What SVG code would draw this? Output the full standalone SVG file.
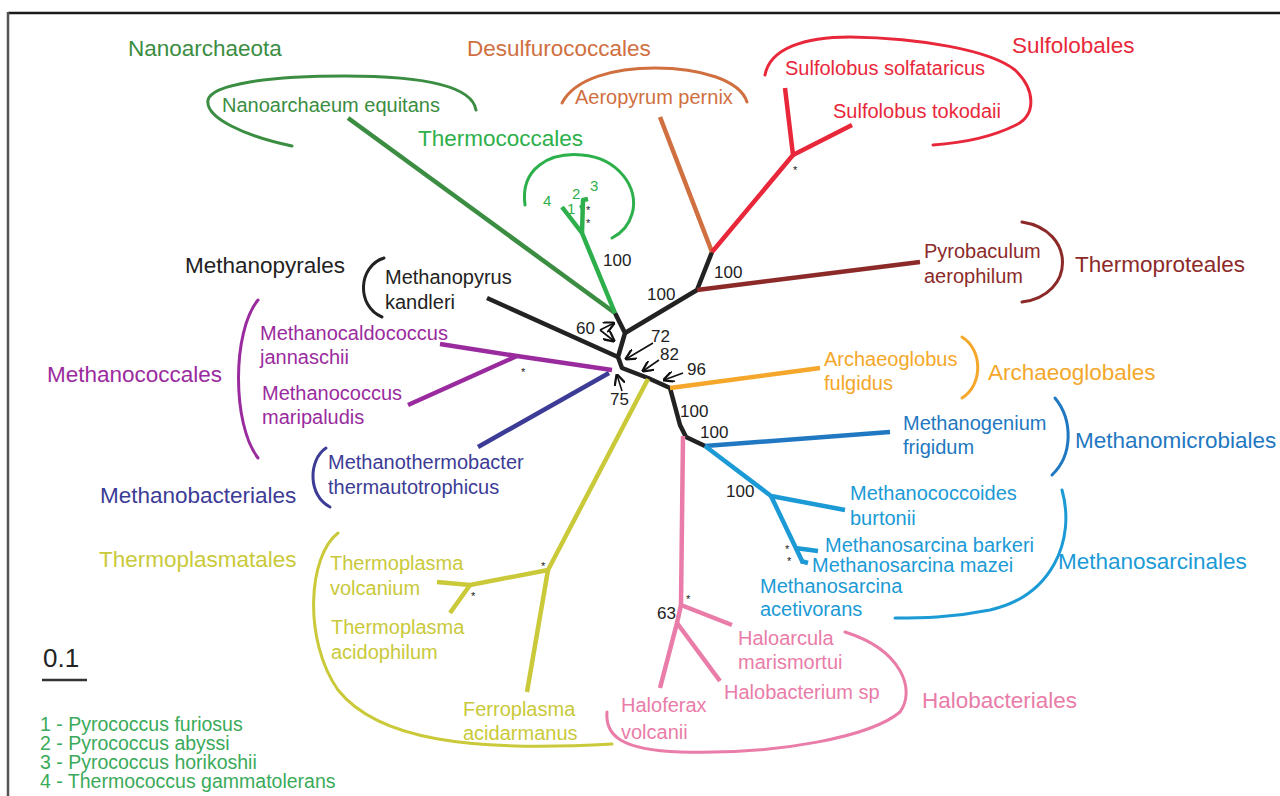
<svg xmlns="http://www.w3.org/2000/svg" width="1280" height="796" viewBox="0 0 1280 796">
<defs>
<marker id="ah" viewBox="0 0 10 10" refX="9" refY="5" markerWidth="7" markerHeight="7" orient="auto-start-reverse">
<path d="M0,0 L10,5 L0,10" fill="none" stroke="#111" stroke-width="2"/>
</marker>
<style>
text{font-family:"Liberation Sans",Arial,sans-serif}
.g{font-size:22.5px}
.s{font-size:20px}
.n{font-size:17px;fill:#222}
.st{font-size:11px;fill:#222}
.br{fill:none;stroke-width:3;stroke-linecap:round}
.ln{fill:none;stroke-width:4.5;stroke-linecap:butt;stroke-linejoin:round}
.ar{fill:none;stroke:#111;stroke-width:1.6;marker-end:url(#ah)}
.c-nan{fill:#3b8d42;stroke:#3b8d42}
.c-thc{fill:#2db04b;stroke:#2db04b}
.c-des{fill:#d06f3f;stroke:#d06f3f}
.c-sul{fill:#e8283a;stroke:#e8283a}
.c-tpr{fill:#8c2a2a;stroke:#8c2a2a}
.c-mpy{fill:#222;stroke:#222}
.c-mcc{fill:#9a2b9e;stroke:#9a2b9e}
.c-mba{fill:#3c3c96;stroke:#3c3c96}
.c-arc{fill:#f4a72a;stroke:#f4a72a}
.c-mmi{fill:#1f78c1;stroke:#1f78c1}
.c-msa{fill:#1b9ad6;stroke:#1b9ad6}
.c-tpl{fill:#c9c93a;stroke:#c9c93a}
.c-hal{fill:#e97ca8;stroke:#e97ca8}
text.c-nan,text.c-thc,text.c-des,text.c-sul,text.c-tpr,text.c-mpy,text.c-mcc,text.c-mba,text.c-arc,text.c-mmi,text.c-msa,text.c-tpl,text.c-hal{stroke:none}
path.c-nan,path.c-thc,path.c-des,path.c-sul,path.c-tpr,path.c-mpy,path.c-mcc,path.c-mba,path.c-arc,path.c-mmi,path.c-msa,path.c-tpl,path.c-hal{fill:none}
</style>
</defs>
<rect x="0" y="0" width="1280" height="796" fill="#fff"/>
<g id="frame">
<line x1="8" y1="13" x2="1280" y2="13" stroke="#1a1a1a" stroke-width="2.5"/>
<line x1="8" y1="12" x2="8" y2="796" stroke="#555" stroke-width="2.5"/>
</g>

<g id="connectors">
<path class="ln c-mpy" d="M615,313 L625,333 L618,357 L622,368 L648,378 L670,388 L680,425 L686,437 L705,446"/>
<path class="ln c-mpy" d="M625,333 L697,290 L712,252"/>
<path class="ln c-mpy" d="M487,298 L618,357"/>
<path class="ln c-nan" d="M348,118 L615,313"/>
<path class="ln c-thc" d="M615,313 L582,233 L562,207"/>
<path class="ln c-thc" d="M582,233 L583,200 L588,199"/>
<path class="ln c-thc" d="M580,208 L584,206"/>
<path class="ln c-des" d="M660,117 L712,252"/>
<path class="ln c-sul" d="M712,252 L793,155 L785,88"/>
<path class="ln c-sul" d="M793,155 L852,125"/>
<path class="ln c-tpr" d="M697,290 L920,262"/>
<path class="ln c-mcc" d="M612,370 L517,356 L440,344"/>
<path class="ln c-mcc" d="M517,356 L408,405"/>
<path class="ln c-mba" d="M609,373 L478,447"/>
<path class="ln c-arc" d="M670,388 L820,368"/>
<path class="ln c-mmi" d="M705,446 L890,432"/>
<path class="ln c-msa" d="M705,446 L771,496 L845,510"/>
<path class="ln c-msa" d="M771,496 L803,563"/>
<path class="ln c-msa" d="M795,548 L818,551"/>
<path class="ln c-msa" d="M801,561 L808,563"/>
<path class="ln c-tpl" d="M648,379 L548,570 L470,585 L437,582"/>
<path class="ln c-tpl" d="M470,585 L450,613"/>
<path class="ln c-tpl" d="M548,570 L527,692"/>
<path class="ln c-hal" d="M683,436 L681,605 L732,625"/>
<path class="ln c-hal" d="M681,605 L677,623 L660,688"/>
<path class="ln c-hal" d="M677,623 L720,681"/>
<path class="ar" d="M600,330 L614,323"/>
<path class="ar" d="M600,330 L614,341"/>
<path class="ar" d="M653,343 L626,359"/>
<path class="ar" d="M659,360 L643,371"/>
<path class="ar" d="M683,373 L664,380"/>
<path class="ar" d="M622,391 L617,375"/>
</g>

<g id="brackets">
<path class="br c-nan" d="M476,110 C472,85 420,76 345,76 C270,76 212,84 208,100 C205,118 245,136 292,146"/>
<path class="br c-thc" d="M525,205 C520,168 550,152 582,155 C618,158 640,188 632,214 C628,228 620,234 612,238"/>
<path class="br c-des" d="M562,103 C575,78 615,68 655,68 C700,68 740,80 747,102"/>
<path class="br c-sul" d="M765,75 C770,48 805,37 850,37 C920,38 990,50 1015,70 C1036,90 1036,115 1016,125 C992,137 962,143 933,145"/>
<path class="br c-tpr" d="M1022,222 C1076,230 1076,295 1022,302"/>
<path class="br c-mpy" d="M384,258 C358,266 356,306 382,317"/>
<path class="br c-mcc" d="M258,300 C232,332 232,424 258,458"/>
<path class="br c-mba" d="M326,448 C308,460 308,496 330,507"/>
<path class="br c-arc" d="M962,337 C983,350 983,385 962,398"/>
<path class="br c-mmi" d="M1055,398 C1073,420 1073,455 1052,475"/>
<path class="br c-msa" d="M1062,490 C1076,540 1052,596 990,610 C950,618 920,618 895,618"/>
<path class="br c-tpl" d="M338,533 C308,556 303,640 338,690 C378,740 470,752 612,744"/>
<path class="br c-hal" d="M607,712 C605,736 622,750 680,752 C780,755 872,736 900,712 C916,690 902,650 845,632"/>
</g>

<g id="nanoarchaeota">
<text class="g c-nan" x="128" y="56">Nanoarchaeota</text>
<text class="s c-nan" x="222" y="112">Nanoarchaeum equitans</text>
</g>
<g id="thermococcales">
<text class="g c-thc" x="418" y="146">Thermococcales</text>
<text class="c-thc" x="543" y="206" font-size="15">4</text>
<text class="c-thc" x="572" y="199" font-size="15">2</text>
<text class="c-thc" x="590" y="191" font-size="15">3</text>
<text class="c-thc" x="567" y="214" font-size="15">1</text>
<text class="st" x="586" y="214">*</text>
<text class="st" x="586" y="227">*</text>
</g>
<g id="desulfurococcales">
<text class="g c-des" x="467" y="56">Desulfurococcales</text>
<text class="s c-des" x="575" y="104">Aeropyrum pernix</text>
</g>
<g id="sulfolobales">
<text class="g c-sul" x="1012" y="53">Sulfolobales</text>
<text class="s c-sul" x="785" y="75">Sulfolobus solfataricus</text>
<text class="s c-sul" x="833" y="118">Sulfolobus tokodaii</text>
<text class="st" x="793" y="174">*</text>
</g>
<g id="thermoproteales">
<text class="g c-tpr" x="1075" y="272">Thermoproteales</text>
<text class="s c-tpr" x="924" y="258">Pyrobaculum</text>
<text class="s c-tpr" x="924" y="283">aerophilum</text>
</g>
<g id="methanopyrales">
<text class="g c-mpy" x="185" y="273">Methanopyrales</text>
<text class="s c-mpy" x="385" y="284">Methanopyrus</text>
<text class="s c-mpy" x="385" y="309">kandleri</text>
</g>
<g id="methanococcales">
<text class="g c-mcc" x="47" y="382">Methanococcales</text>
<text class="s c-mcc" x="260" y="340">Methanocaldococcus</text>
<text class="s c-mcc" x="260" y="364">jannaschii</text>
<text class="s c-mcc" x="262" y="400">Methanococcus</text>
<text class="s c-mcc" x="262" y="424">maripaludis</text>
<text class="st" x="521" y="376">*</text>
</g>
<g id="methanobacteriales">
<text class="g c-mba" x="100" y="503">Methanobacteriales</text>
<text class="s c-mba" x="328" y="469">Methanothermobacter</text>
<text class="s c-mba" x="328" y="494">thermautotrophicus</text>
</g>
<g id="archaeoglobales">
<text class="g c-arc" x="988" y="380">Archaeoglobales</text>
<text class="s c-arc" x="824" y="366">Archaeoglobus</text>
<text class="s c-arc" x="824" y="390">fulgidus</text>
</g>
<g id="methanomicrobiales">
<text class="g c-mmi" x="1075" y="448">Methanomicrobiales</text>
<text class="s c-mmi" x="903" y="430">Methanogenium</text>
<text class="s c-mmi" x="903" y="454">frigidum</text>
</g>
<g id="methanosarcinales">
<text class="g c-msa" x="1058" y="569">Methanosarcinales</text>
<text class="s c-msa" x="850" y="500">Methanococcoides</text>
<text class="s c-msa" x="850" y="525">burtonii</text>
<text class="s c-msa" x="825" y="552">Methanosarcina barkeri</text>
<text class="s c-msa" x="812" y="572">Methanosarcina mazei</text>
<text class="s c-msa" x="760" y="593">Methanosarcina</text>
<text class="s c-msa" x="760" y="616">acetivorans</text>
<text class="st" x="785" y="553">*</text>
<text class="st" x="787" y="565">*</text>
</g>
<g id="thermoplasmatales">
<text class="g c-tpl" x="99" y="567">Thermoplasmatales</text>
<text class="s c-tpl" x="330" y="570">Thermoplasma</text>
<text class="s c-tpl" x="330" y="595">volcanium</text>
<text class="s c-tpl" x="331" y="634">Thermoplasma</text>
<text class="s c-tpl" x="331" y="659">acidophilum</text>
<text class="s c-tpl" x="463" y="716">Ferroplasma</text>
<text class="s c-tpl" x="463" y="740">acidarmanus</text>
<text class="st" x="541" y="570">*</text>
<text class="st" x="471" y="600">*</text>
</g>
<g id="halobacteriales">
<text class="g c-hal" x="922" y="708">Halobacteriales</text>
<text class="s c-hal" x="738" y="645">Haloarcula</text>
<text class="s c-hal" x="738" y="669">marismortui</text>
<text class="s c-hal" x="724" y="699">Halobacterium sp</text>
<text class="s c-hal" x="621" y="712">Haloferax</text>
<text class="s c-hal" x="621" y="739">volcanii</text>
<text class="st" x="686" y="603">*</text>
</g>
<g id="bootstrap">
<text class="n" x="603" y="266">100</text>
<text class="n" x="714" y="278">100</text>
<text class="n" x="647" y="300">100</text>
<text class="n" x="576" y="334">60</text>
<text class="n" x="651" y="342">72</text>
<text class="n" x="660" y="360">82</text>
<text class="n" x="687" y="375">96</text>
<text class="n" x="610" y="405">75</text>
<text class="n" x="680" y="417">100</text>
<text class="n" x="700" y="438">100</text>
<text class="n" x="726" y="497">100</text>
<text class="n" x="657" y="619">63</text>
</g>
<g id="scale">
<text x="43" y="667" font-size="26" fill="#222">0.1</text>
<line x1="42" y1="680" x2="87" y2="680" stroke="#333" stroke-width="2.5"/>
</g>
<g id="legend" fill="#3aaa5a" font-size="19.5">
<text x="40" y="731">1 - Pyrococcus furiosus</text>
<text x="40" y="750">2 - Pyrococcus abyssi</text>
<text x="40" y="769">3 - Pyrococcus horikoshii</text>
<text x="40" y="788">4 - Thermococcus gammatolerans</text>
</g>
</svg>
